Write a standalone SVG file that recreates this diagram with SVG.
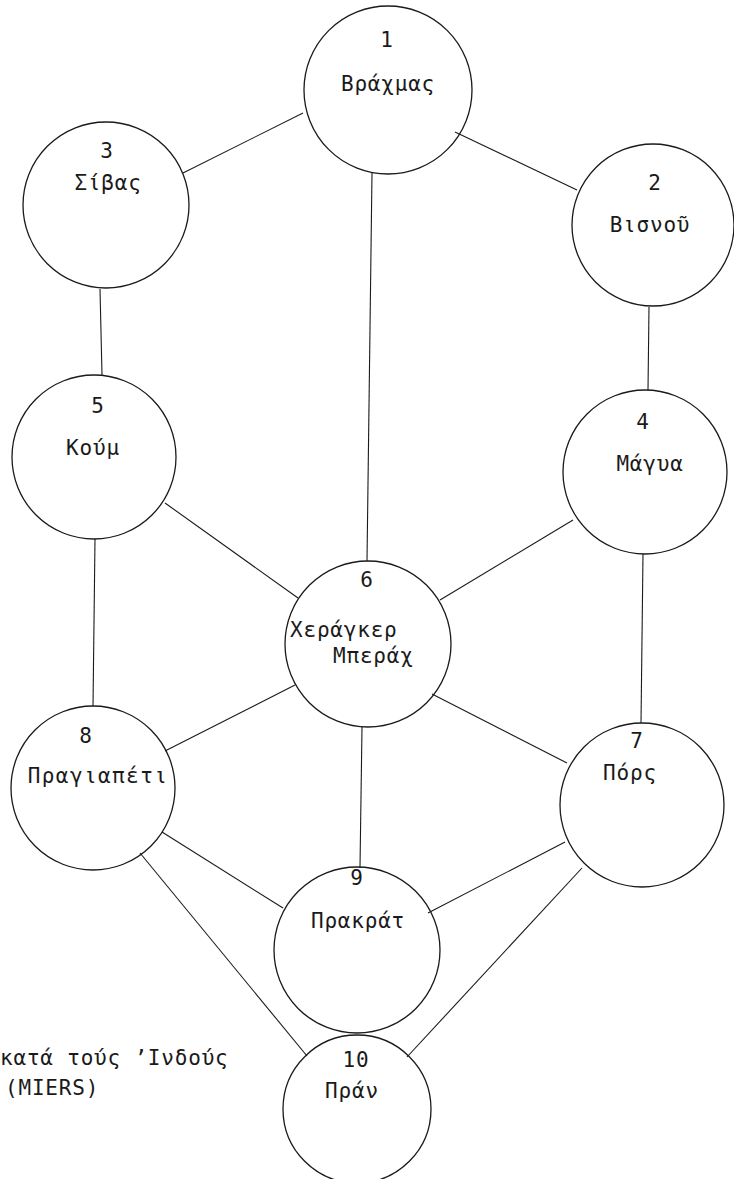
<svg xmlns="http://www.w3.org/2000/svg" width="734" height="1179" viewBox="0 0 734 1179">
<style>
.bg{fill:#ffffff}
.node circle{fill:none;stroke:#1a1a1a;stroke-width:1.3}
.edges line{stroke:#1a1a1a;stroke-width:1.1;fill:none}
text{font-family:"DejaVu Sans Mono","Liberation Mono",monospace;font-size:21px;fill:#1a1a1a;letter-spacing:0.8px}
.c{text-anchor:middle}
</style>
<rect class="bg" x="0" y="0" width="734" height="1179"/>
<g id="connectors" class="edges">
<line x1="183" y1="173" x2="303" y2="113"/>
<line x1="455" y1="132" x2="577" y2="190"/>
<line x1="372" y1="173" x2="367" y2="561"/>
<line x1="100" y1="289" x2="102" y2="375"/>
<line x1="649" y1="307" x2="648" y2="390"/>
<line x1="165" y1="503" x2="298" y2="598"/>
<line x1="573" y1="520" x2="440" y2="600"/>
<line x1="95" y1="539" x2="93" y2="706"/>
<line x1="643" y1="554" x2="641" y2="723"/>
<line x1="165" y1="751" x2="295" y2="685"/>
<line x1="432" y1="694" x2="567" y2="763"/>
<line x1="362" y1="727" x2="360" y2="868"/>
<line x1="162" y1="832" x2="283" y2="908"/>
<line x1="428" y1="913" x2="565" y2="842"/>
<line x1="582" y1="868" x2="407" y2="1057"/>
<line x1="140" y1="853" x2="307" y2="1056"/>
</g>
<g id="node1" class="node"><circle cx="388" cy="90" r="84"/><text class="c" x="387" y="47">1</text><text class="c" x="388" y="91">Βράχμας</text></g>
<g id="node2" class="node"><circle cx="653" cy="225" r="81"/><text class="c" x="655" y="190">2</text><text class="c" x="650" y="232">Βισνοῦ</text></g>
<g id="node3" class="node"><circle cx="106" cy="205" r="83"/><text class="c" x="107" y="158">3</text><text class="c" x="108" y="190">Σίβας</text></g>
<g id="node4" class="node"><circle cx="645" cy="472" r="82"/><text class="c" x="643" y="429">4</text><text class="c" x="650" y="471">Μάγυα</text></g>
<g id="node5" class="node"><circle cx="94" cy="457" r="82"/><text class="c" x="98" y="413">5</text><text class="c" x="93" y="455">Κούμ</text></g>
<g id="node6" class="node"><circle cx="368" cy="644" r="83"/><text class="c" x="367" y="587">6</text><text x="290" y="637">Χεράγκερ</text><text x="333" y="663">Μπεράχ</text></g>
<g id="node7" class="node"><circle cx="642" cy="805" r="82"/><text class="c" x="637" y="748">7</text><text class="c" x="630" y="780">Πόρς</text></g>
<g id="node8" class="node"><circle cx="93" cy="788" r="82"/><text class="c" x="98" y="783" style="letter-spacing:1.4px">Πραγιαπέτι</text><text class="c" x="86" y="743">8</text></g>
<g id="node9" class="node"><circle cx="357" cy="950" r="83"/><text class="c" x="357" y="885">9</text><text class="c" x="358" y="928">Πρακράτ</text></g>
<g id="node10" class="node"><circle cx="357" cy="1109" r="74"/><text class="c" x="356" y="1067">10</text><text class="c" x="352" y="1098">Πράν</text></g>
<g id="caption"><text x="0" y="1065">κατά τούς ’Ινδούς</text><text x="5" y="1095">(MIERS)</text></g>
</svg>
